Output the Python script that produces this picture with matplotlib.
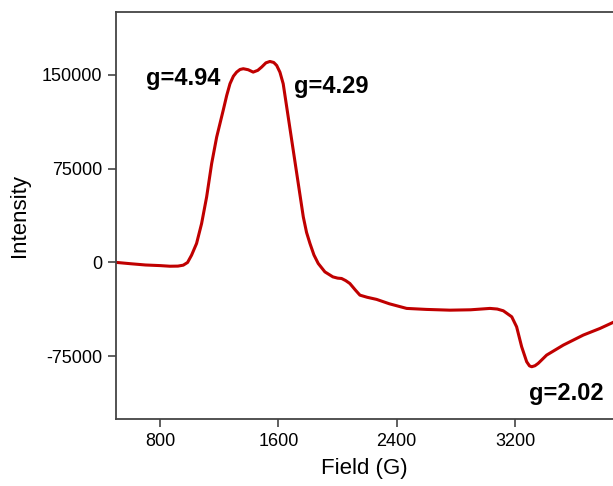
import matplotlib.pyplot as plt

plt.rcParams['font.family'] = ['Liberation Sans', 'DejaVu Sans']
plt.rcParams['axes.unicode_minus'] = False

# EPR spectrum, values
field = [508, 600, 700, 800, 866, 920, 956, 985, 1012, 1046, 1080, 1114, 1148,
         1182, 1226, 1250, 1272, 1295, 1317, 1340, 1362, 1395, 1429, 1460, 1486,
         1515, 1542, 1568, 1588, 1610, 1632, 1666, 1700, 1734, 1768, 1790, 1813,
         1840, 1869, 1914, 1968, 2000, 2027, 2055, 2083, 2120, 2151, 2200, 2264,
         2350, 2467, 2600, 2760, 2900, 3031, 3080, 3121, 3178, 3211, 3245, 3279,
         3298, 3313, 3335, 3357, 3414, 3527, 3662, 3775, 3863]
intensity = [0, -1000, -2000, -2500, -3000, -2900, -2150, 0, 5800, 15200,
             31100, 52300, 79000, 100200, 121500, 133500, 142800, 148800,
             152100, 154200, 154800, 154000, 152100, 153500, 156100, 159500,
             160600, 159800, 157400, 152000, 142800, 116200, 89600, 63000,
             36400, 24000, 15200, 6000, -800, -7500, -11500, -12500, -12800,
             -14500, -16800, -22000, -26100, -27800, -29500, -33000, -36700,
             -37500, -38100, -37800, -36700, -37200, -38600, -43400, -51400,
             -67300, -79300, -82600, -83300, -82500, -80600, -74000, -66000,
             -58000, -52700, -47900]

xticks = [800, 1600, 2400, 3200]
yticks = [-75000, 0, 75000, 150000]

labels = ['g=4.94', 'g=4.29', 'g=2.02']
label_x = [954, 1955, 3545]
label_y = [147000, 140700, -105000]

fig = plt.figure(figsize=(6.13, 4.86), dpi=100)
ax = fig.add_axes([0.189, 0.138, 0.811, 0.837])

ax.plot(field, intensity, color='#c00000', linewidth=2.2,
        solid_joinstyle='round')

for txt, lx, ly in zip(labels, label_x, label_y):
    ax.text(lx, ly, txt, fontsize=17, fontweight='bold', ha='center', va='center')

ax.set_xlim(500, 3863)
ax.set_ylim(-125000, 200000)
ax.set_xticks(xticks)
ax.set_yticks(yticks)
ax.set_xlabel('Field (G)', fontsize=16, labelpad=6)
ax.set_ylabel('Intensity', fontsize=16, labelpad=8)

for side in ['left', 'bottom', 'top']:
    ax.spines[side].set_color('#444444')
    ax.spines[side].set_linewidth(1.3)
ax.spines['right'].set_visible(False)
ax.tick_params(axis='both', direction='out', length=6, width=1.2,
               color='#444444', labelsize=13, pad=4)

plt.savefig('out.png', dpi=100)
